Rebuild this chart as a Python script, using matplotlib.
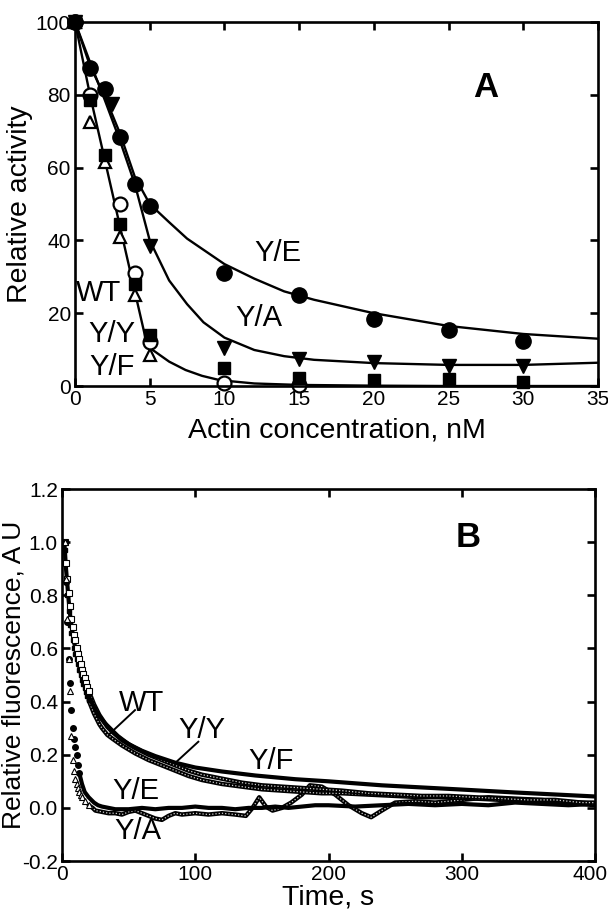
import matplotlib
matplotlib.use("Agg")
import matplotlib.pyplot as plt
import matplotlib.transforms as mtransforms

plt.rcParams["font.family"] = ["Liberation Sans", "DejaVu Sans"]
plt.rcParams["axes.unicode_minus"] = False

# ---- panel A : relative activity vs actin concentration (nM)
ye_x = [0, 1, 2, 3, 4, 5, 10, 15, 20, 25, 30]
ye_y = [100, 87.5, 81.5, 68.5, 55.5, 49.5, 31, 25, 18.5, 15.5, 12.5]
ya_x = [0, 2.5, 5, 10, 15, 20, 25, 30]
ya_y = [100, 77.5, 38.5, 10.5, 7.5, 6.5, 5.5, 5.5]
wt_x = [0, 1, 3, 4, 5, 10, 15]
wt_y = [100, 80, 50, 31, 12, 0.8, 0.3]
yy_x = [0, 1, 2, 3, 4, 5, 10, 15, 20, 25, 30]
yy_y = [100, 78.5, 63.5, 44.5, 28, 14, 4.9, 2.2, 1.6, 1.8, 1.2]
yf_x = [0, 1, 2, 3, 4, 5]
yf_y = [100, 72.5, 61.5, 41, 25, 8.5]

# fitted curves
fit_ye_x = [0, 1, 2, 3, 4, 5, 6.3, 7.5, 10, 12, 14, 16, 20, 25, 30, 35]
fit_ye_y = [100, 88, 79.5, 69.5, 57.5, 50, 45, 40.5, 33.5, 29.5, 26, 23.7, 20, 16.5, 14.3, 13]
fit_ya_x = [0, 1, 2, 3, 4, 5, 6.3, 7.5, 8.6, 10, 12, 14, 16, 20, 25, 30, 35]
fit_ya_y = [100, 89, 78.5, 67.5, 55.5, 40, 29, 22.5, 17.5, 13.3, 9.9, 8.2, 7.2, 6.3, 5.8, 5.8, 6.4]
fit_wt_x = [0, 1, 2, 3, 4, 4.7, 5.2, 6.3, 7.4, 8.5, 9.7, 12, 15, 20, 25, 30, 35]
fit_wt_y = [100, 80, 62, 44, 26, 13.5, 9.9, 6.7, 4.4, 2.8, 1.6, 0.7, 0.3, 0.1, 0, 0, 0]

# ---- panel B : relative fluorescence vs time (s)
wt_t = [2, 3, 4, 5, 6, 7, 8, 9, 10, 11, 12, 13, 14, 15, 16, 17, 18, 19, 20, 22, 24, 26, 28, 30,
        34, 38, 45, 55, 65, 75, 85, 95, 105, 120, 135, 150, 165, 180, 195, 210, 230, 250, 270,
        290, 310, 330, 350, 370, 390, 400]
wt_v = [1.0, 0.92, 0.86, 0.81, 0.76, 0.71, 0.68, 0.65, 0.63, 0.6, 0.58, 0.56, 0.54, 0.52, 0.505,
        0.49, 0.47, 0.455, 0.44, 0.415, 0.39, 0.37, 0.35, 0.335,
        0.305, 0.285, 0.255, 0.225, 0.2, 0.18, 0.16, 0.14, 0.125, 0.11, 0.095, 0.085, 0.08, 0.075,
        0.07, 0.065, 0.055, 0.05, 0.045, 0.045, 0.04, 0.035, 0.03, 0.03, 0.02, 0.02]
yy_t = [2, 3, 4, 5, 6, 7, 8, 9, 10, 11, 12, 13, 14, 15, 16, 17, 18, 19, 20, 22, 24, 26, 28, 30,
        34, 38, 45, 55, 65, 75, 85, 95, 105, 120, 135, 150, 165, 180, 195, 210, 230, 250, 270,
        290, 310, 330, 350, 370, 390, 400]
yy_v = [0.97, 0.85, 0.8, 0.74, 0.69, 0.66, 0.63, 0.6, 0.58, 0.56, 0.54, 0.52, 0.5, 0.48, 0.465,
        0.45, 0.435, 0.42, 0.405, 0.38, 0.355, 0.335, 0.315, 0.3,
        0.275, 0.26, 0.235, 0.205, 0.18, 0.16, 0.14, 0.12, 0.105, 0.09, 0.08, 0.07, 0.065, 0.06,
        0.055, 0.055, 0.05, 0.045, 0.04, 0.04, 0.035, 0.03, 0.03, 0.025, 0.02, 0.015]
yf_t = [2, 3, 4, 5, 6, 7, 8, 9, 10, 11, 12, 13, 14, 15, 16, 18, 20, 22, 25, 28, 32, 36, 42, 50,
        60, 70, 85, 100, 120, 145, 175, 200, 240, 270, 300, 340, 380, 400]
yf_v = [0.98, 0.9, 0.84, 0.78, 0.73, 0.69, 0.655, 0.625, 0.6, 0.575, 0.55, 0.53, 0.51, 0.49,
        0.475, 0.445, 0.42, 0.4, 0.37, 0.345, 0.32, 0.3, 0.27, 0.24, 0.215, 0.195, 0.17, 0.152,
        0.137, 0.122, 0.108, 0.1, 0.085, 0.077, 0.069, 0.058, 0.048, 0.043]
ye_t_early = [2, 3, 4, 5, 6, 7, 8, 9, 10, 11, 12, 13]
ye_v_early = [1.0, 0.85, 0.7, 0.56, 0.47, 0.37, 0.3, 0.26, 0.23, 0.2, 0.16, 0.13]
ye_t = [13, 14, 15, 17, 20, 24, 27, 30, 35, 40, 50, 60, 70, 80, 90, 100, 110, 120, 130, 140, 150,
        160, 170, 180, 190, 200, 220, 240, 260, 280, 300, 320, 340, 360, 380, 400]
ye_v = [0.13, 0.11, 0.09, 0.06, 0.04, 0.02, 0.01, 0.005, 0.0, -0.005, -0.005, 0.0, -0.005, 0.0,
        0.0, 0.005, 0.0, 0.0, -0.005, 0.0, 0.0, 0.005, 0.0, 0.005, 0.01, 0.01, 0.005, 0.01, 0.015,
        0.01, 0.015, 0.01, 0.02, 0.015, 0.01, 0.015]
ya_t_early = [2, 3, 4, 5, 6, 7, 8, 9, 10, 11, 12, 13, 14, 15, 17, 20]
ya_v_early = [1.0, 0.86, 0.71, 0.56, 0.44, 0.27, 0.18, 0.14, 0.11, 0.09, 0.075, 0.06, 0.05, 0.04,
              0.025, 0.01]
ya_t = [20, 23, 25, 30, 35, 40, 45, 50, 55, 60, 65, 70, 75, 80, 85, 90, 100, 110, 120, 130, 138,
        143, 148, 153, 158, 165, 172, 180, 186, 195, 205, 215, 225, 232, 240, 250, 265, 280, 300,
        320, 340, 360, 380, 400]
ya_v = [0.01, 0.0, -0.01, -0.015, -0.02, -0.02, -0.025, -0.015, -0.01, -0.02, -0.03, -0.04,
        -0.045, -0.03, -0.02, -0.025, -0.02, -0.025, -0.02, -0.025, -0.03, 0.0, 0.04, 0.005,
        -0.01, 0.0, 0.02, 0.05, 0.085, 0.08, 0.05, 0.01, -0.02, -0.035, -0.01, 0.02, 0.025, 0.02,
        0.03, 0.04, 0.035, 0.03, 0.02, 0.01]

TICK_FS = 15
LAB_FS = 20.5
TXT_FS = 21


def style_axes(ax):
    for s in ax.spines.values():
        s.set_linewidth(1.9)
    ax.tick_params(direction="in", length=6, width=1.9, top=True, right=True,
                   labelsize=TICK_FS, pad=3)


fig = plt.figure(figsize=(6.08, 9.10), dpi=100)

# ---------------- A
axA = fig.add_axes([0.1234, 0.5758, 0.860, 0.400])
lw = 1.7
axA.plot(fit_ye_x, fit_ye_y, "k-", lw=lw, clip_on=False)
axA.plot(fit_ya_x, fit_ya_y, "k-", lw=lw, clip_on=False)
axA.plot(fit_wt_x, fit_wt_y, "k-", lw=lw, clip_on=False)
axA.plot(yf_x, yf_y, "^", ms=9, mfc="white", mec="k", mew=1.6, ls="none", clip_on=False)
axA.plot(wt_x, wt_y, "o", ms=10, mfc="white", mec="k", mew=1.6, ls="none", clip_on=False)
axA.plot(yy_x, yy_y, "s", ms=9, color="k", ls="none", clip_on=False)
axA.plot(ya_x, ya_y, "v", ms=10, color="k", ls="none", clip_on=False)
axA.plot(ye_x, ye_y, "o", ms=11, color="k", ls="none", clip_on=False)
axA.set_xlim(0, 35)
axA.set_ylim(0, 100)
axA.set_xticks(range(0, 36, 5))
axA.set_yticks(range(0, 101, 20))
style_axes(axA)
axA.set_xlabel("Actin concentration, nM", fontsize=LAB_FS, labelpad=6)
axA.set_ylabel("Relative activity", fontsize=LAB_FS, labelpad=2)
axA.text(13.6, 36.5, "Y/E", fontsize=TXT_FS, ha="center", va="center")
axA.text(12.3, 18.7, "Y/A", fontsize=TXT_FS, ha="center", va="center")
axA.text(1.6, 25.5, "WT", fontsize=TXT_FS, ha="center", va="center")
axA.text(2.5, 14.3, "Y/Y", fontsize=TXT_FS, ha="center", va="center")
axA.text(2.5, 5.2, "Y/F", fontsize=TXT_FS, ha="center", va="center")
axA.text(27.5, 82, "A", fontsize=25, fontweight="bold", ha="center", va="center")

# ---------------- B
axB = fig.add_axes([0.102, 0.0538, 0.8766, 0.4088])


def dotted_trace(t, v):
    axB.plot(t, v, "-", color="k", lw=3.2, solid_capstyle="round")
    axB.plot(t, v, color="#d0d0d0", lw=0.9, ls=(0, (1, 1.6)))


dotted_trace(ya_t, ya_v)
axB.plot(ye_t, ye_v, "k-", lw=3.0)
dotted_trace(yy_t[18:], yy_v[18:])
dotted_trace(wt_t[18:], wt_v[18:])
axB.plot(yf_t, yf_v, "k-", lw=3.0)
axB.plot(yy_t[:19], yy_v[:19], "s", ms=3.5, color="k", ls="none")
axB.plot(wt_t[:19], wt_v[:19], "s", ms=3.8, mfc="white", mec="k", mew=0.8, ls="none")
axB.plot(ye_t_early, ye_v_early, "o", ms=4, color="k", ls="none")
axB.plot(ya_t_early, ya_v_early, "^", ms=4, mfc="white", mec="k", mew=0.8, ls="none")
axB.set_xlim(0, 400)
axB.set_ylim(-0.2, 1.2)
axB.set_xticks(range(0, 401, 100))
axB.set_yticks([-0.2, 0.0, 0.2, 0.4, 0.6, 0.8, 1.0, 1.2])
axB.set_yticklabels(["-0.2", "0.0", "0.2", "0.4", "0.6", "0.8", "1.0", "1.2"])
style_axes(axB)
# nudge the last x label ("400") so it stays inside the figure
last = axB.get_xticklabels()[-1]
last.set_transform(last.get_transform()
                   + mtransforms.ScaledTranslation(-5 / 100, 0, fig.dpi_scale_trans))
axB.set_xlabel("Time, s", fontsize=LAB_FS, labelpad=0)
axB.set_ylabel("Relative fluorescence, A U", fontsize=19)
axB.yaxis.set_label_coords(-0.068, 0.5)
axB.text(59.7, 0.395, "WT", fontsize=TXT_FS, ha="center", va="center")
axB.text(104.7, 0.293, "Y/Y", fontsize=TXT_FS, ha="center", va="center")
axB.text(156.8, 0.177, "Y/F", fontsize=TXT_FS, ha="center", va="center")
axB.text(55.4, 0.064, "Y/E", fontsize=TXT_FS, ha="center", va="center")
axB.text(56.7, -0.086, "Y/A", fontsize=TXT_FS, ha="center", va="center")
axB.plot([54.8, 36], [0.368, 0.28], "k-", lw=1.4)
axB.plot([102.3, 86], [0.249, 0.174], "k-", lw=1.4)
axB.text(305, 1.017, "B", fontsize=25, fontweight="bold", ha="center", va="center")

fig.savefig("out.png", dpi=100)
